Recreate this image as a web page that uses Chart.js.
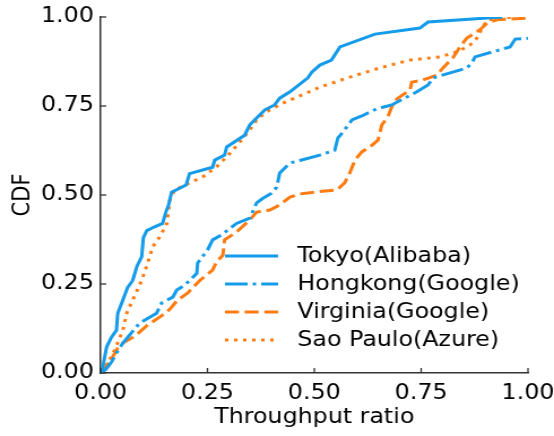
<!DOCTYPE html>
<html>
<head>
<meta charset="utf-8">
<script src="https://cdn.jsdelivr.net/npm/chart.js@4"></script>
<style>
  html, body { margin: 0; padding: 0; background: #fff; }
</style>
</head>
<body>
<!-- the original figure is a bit wider than tall in its text, so the canvas is stretched sideways -->
<canvas id="cdfChart" width="490" height="436" style="width:554px;height:436px;display:block"></canvas>
<script>
// Series (throughput ratio, CDF)
const seriesNames = ['Tokyo(Alibaba)', 'Hongkong(Google)', 'Virginia(Google)', 'Sao Paulo(Azure)'];
const tickValues = [0, 0.25, 0.5, 0.75, 1];

const tokyoX = [0, 0.005, 0.014, 0.025, 0.037, 0.04, 0.052, 0.063, 0.075, 0.085, 0.096, 0.1, 0.108, 0.125, 0.145, 0.152, 0.159, 0.166, 0.2, 0.208, 0.262, 0.267, 0.29, 0.295, 0.337, 0.349, 0.384, 0.407, 0.419, 0.443, 0.485, 0.494, 0.513, 0.54, 0.56, 0.642, 0.747, 0.766, 0.94];
const tokyoY = [0, 0.017, 0.073, 0.1, 0.12, 0.168, 0.205, 0.24, 0.26, 0.3, 0.326, 0.38, 0.4, 0.41, 0.42, 0.45, 0.472, 0.508, 0.528, 0.56, 0.578, 0.598, 0.612, 0.635, 0.668, 0.697, 0.739, 0.753, 0.772, 0.79, 0.829, 0.845, 0.865, 0.879, 0.916, 0.952, 0.969, 0.986, 1.0];

const hongkongX = [0, 0.012, 0.025, 0.037, 0.052, 0.07, 0.091, 0.131, 0.143, 0.169, 0.178, 0.197, 0.225, 0.227, 0.25, 0.262, 0.283, 0.318, 0.349, 0.365, 0.379, 0.4, 0.412, 0.419, 0.443, 0.466, 0.513, 0.548, 0.555, 0.567, 0.588, 0.611, 0.646, 0.681, 0.74, 0.766, 0.778, 0.857, 0.869, 0.876, 0.958, 0.97, 1.0];
const hongkongY = [0, 0.01, 0.03, 0.056, 0.084, 0.11, 0.14, 0.168, 0.197, 0.213, 0.233, 0.247, 0.28, 0.309, 0.345, 0.374, 0.388, 0.42, 0.435, 0.478, 0.49, 0.505, 0.522, 0.562, 0.59, 0.597, 0.612, 0.626, 0.66, 0.677, 0.711, 0.722, 0.742, 0.753, 0.79, 0.809, 0.829, 0.857, 0.871, 0.888, 0.916, 0.938, 0.94];

const virginiaX = [0, 0.005, 0.028, 0.04, 0.052, 0.075, 0.091, 0.11, 0.138, 0.155, 0.166, 0.18, 0.204, 0.232, 0.262, 0.271, 0.286, 0.29, 0.318, 0.349, 0.365, 0.396, 0.419, 0.443, 0.466, 0.513, 0.553, 0.571, 0.583, 0.595, 0.611, 0.63, 0.649, 0.658, 0.672, 0.681, 0.693, 0.724, 0.728, 0.754, 0.787, 0.801, 0.824, 0.841, 0.857, 0.88, 0.892, 0.904, 0.927, 1.0];
const virginiaY = [0, 0.005, 0.045, 0.07, 0.084, 0.1, 0.115, 0.135, 0.157, 0.171, 0.185, 0.205, 0.225, 0.26, 0.289, 0.312, 0.331, 0.374, 0.396, 0.43, 0.452, 0.458, 0.472, 0.494, 0.503, 0.51, 0.514, 0.534, 0.562, 0.598, 0.621, 0.635, 0.654, 0.697, 0.719, 0.747, 0.77, 0.795, 0.817, 0.823, 0.837, 0.857, 0.885, 0.916, 0.941, 0.958, 0.969, 0.983, 0.992, 0.997];

const saoPauloX = [0, 0.005, 0.021, 0.033, 0.052, 0.061, 0.075, 0.096, 0.11, 0.122, 0.138, 0.155, 0.162, 0.173, 0.208, 0.239, 0.271, 0.295, 0.326, 0.349, 0.368, 0.396, 0.426, 0.459, 0.513, 0.583, 0.653, 0.724, 0.794, 0.834, 0.864, 0.883, 0.892, 0.906, 0.965];
const saoPauloY = [0, 0.003, 0.037, 0.065, 0.12, 0.168, 0.205, 0.26, 0.309, 0.355, 0.382, 0.42, 0.486, 0.514, 0.534, 0.551, 0.579, 0.607, 0.649, 0.683, 0.716, 0.739, 0.758, 0.775, 0.803, 0.831, 0.857, 0.879, 0.888, 0.902, 0.921, 0.944, 0.969, 0.992, 1.0];

const BLUE = '#149be9';
const ORANGE = '#fc7c12';
const FONT = { family: 'DejaVu Sans', size: 21 };

function toPoints(xs, ys) {
  return xs.map((x, i) => ({ x: x, y: ys[i] }));
}

function makeSet(label, xs, ys, color, dash) {
  return {
    label: label,
    data: toPoints(xs, ys),
    borderColor: color,
    backgroundColor: color,
    borderWidth: 3,
    borderDash: dash,
    pointRadius: 0,
    tension: 0,
    fill: false
  };
}

/**
 * Inward tick marks, like the original plot
 */
const innerTicks = {
  id: 'innerTicks',
  afterDraw(chart) {
    const ctx = chart.ctx;
    const xs = chart.scales.x;
    const ys = chart.scales.y;
    const area = chart.chartArea;
    ctx.save();
    ctx.strokeStyle = '#333';
    ctx.lineWidth = 1.3;
    tickValues.forEach(v => {
      const px = xs.getPixelForValue(v);
      ctx.beginPath();
      ctx.moveTo(px, area.bottom);
      ctx.lineTo(px, area.bottom - 5);
      ctx.stroke();
      const py = ys.getPixelForValue(v);
      ctx.beginPath();
      ctx.moveTo(area.left, py);
      ctx.lineTo(area.left + 5, py);
      ctx.stroke();
    });
    ctx.restore();
  }
};

/**
 * Legend drawn inside the plot, lower right
 */
const insideLegend = {
  id: 'insideLegend',
  afterDraw(chart) {
    const ctx = chart.ctx;
    ctx.save();
    ctx.font = FONT.size + 'px ' + FONT.family;
    ctx.textBaseline = 'middle';
    ctx.fillStyle = '#000';
    chart.data.datasets.forEach((ds, i) => {
      const y = 256 + i * 28;
      ctx.strokeStyle = ds.borderColor;
      ctx.lineWidth = ds.borderWidth;
      ctx.setLineDash(ds.borderDash);
      ctx.beginPath();
      ctx.moveTo(199, y);
      ctx.lineTo(246, y);
      ctx.stroke();
      ctx.setLineDash([]);
      ctx.fillText(ds.label, 263, y + 1);
    });
    ctx.restore();
  }
};

function initializeChart() {
  const ctx = document.getElementById('cdfChart');
  new Chart(ctx, {
    type: 'line',
    data: {
      datasets: [
        makeSet(seriesNames[0], tokyoX, tokyoY, BLUE, []),
        makeSet(seriesNames[1], hongkongX, hongkongY, BLUE, [20, 4.5, 3, 4.5]),
        makeSet(seriesNames[2], virginiaX, virginiaY, ORANGE, [12.4, 5]),
        makeSet(seriesNames[3], saoPauloX, saoPauloY, ORANGE, [3, 5])
      ]
    },
    options: {
      responsive: false,
      animation: false,
      devicePixelRatio: 1,
      layout: { padding: { top: 17, right: 23, left: 0, bottom: 0 } },
      plugins: {
        legend: { display: false },
        tooltip: { enabled: false }
      },
      scales: {
        x: {
          type: 'linear',
          min: 0,
          max: 1,
          afterBuildTicks: (scale) => { scale.ticks = tickValues.map(v => ({ value: v })); },
          afterFit: (scale) => {
            scale.height = 63;
            scale.paddingLeft = 0;
            scale.paddingRight = 0;
          },
          grid: { display: false, drawTicks: false },
          border: { display: true, color: '#333', width: 1.5 },
          ticks: {
            color: '#000',
            font: FONT,
            padding: 8,
            maxRotation: 0,
            callback: (v) => Number(v).toFixed(2)
          },
          title: {
            display: true,
            text: 'Throughput ratio',
            color: '#000',
            font: FONT,
            padding: { top: 0, bottom: 6 }
          }
        },
        y: {
          type: 'linear',
          min: 0,
          max: 1,
          afterBuildTicks: (scale) => { scale.ticks = tickValues.map(v => ({ value: v })); },
          afterFit: (scale) => {
            scale.width = 89;
            scale.paddingTop = 0;
            scale.paddingBottom = 0;
          },
          grid: { display: false, drawTicks: false },
          border: { display: true, color: '#333', width: 1.5 },
          ticks: {
            color: '#000',
            font: FONT,
            padding: 6,
            callback: (v) => Number(v).toFixed(2)
          },
          title: {
            display: true,
            text: 'CDF',
            color: '#000',
            font: FONT,
            padding: { top: 8, bottom: 0 }
          }
        }
      }
    },
    plugins: [innerTicks, insideLegend]
  });
}

document.addEventListener('DOMContentLoaded', function() {
  initializeChart();
});
</script>
</body>
</html>
